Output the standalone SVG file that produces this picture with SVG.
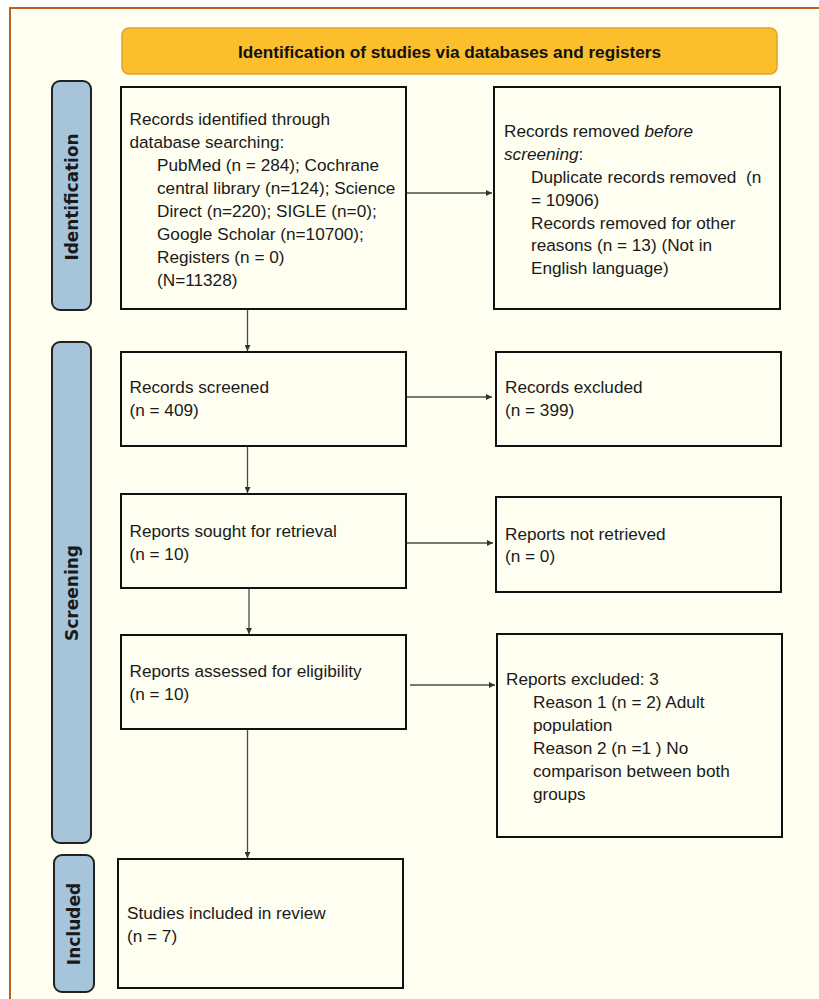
<svg xmlns="http://www.w3.org/2000/svg" width="819" height="999" viewBox="0 0 819 999">
<style>
.bg{fill:#fefef1;stroke:#b8621b;stroke-width:2}
.hdr{fill:#fbbe2c;stroke:#e3a12b;stroke-width:1.5}
.hdrt{font-family:"Liberation Sans",Arial,sans-serif;font-weight:bold;font-size:17px;fill:#111;text-anchor:middle}
.bar{fill:#a7c5da;stroke:#222;stroke-width:2}
.bart{font-family:"DejaVu Sans",Verdana,sans-serif;font-weight:bold;font-size:17px;fill:#1a1a1a;text-anchor:middle}
.box{fill:#fefef1;stroke:#111;stroke-width:2}
.t{font-family:"Liberation Sans",Arial,sans-serif;font-size:17.2px;fill:#1a1a1a}
.conn line{stroke:#4a4a4a;stroke-width:1.3;fill:none}
</style>
<defs>
<marker id="ah" viewBox="0 0 6 6" refX="6" refY="3" markerWidth="6" markerHeight="6" markerUnits="userSpaceOnUse" orient="auto">
<path d="M0,0 L6,3 L0,6 z" fill="#333"/>
</marker>
</defs>
<rect x="0" y="0" width="819" height="999" fill="#ffffff"/>
<rect class="bg" x="10" y="8" width="830" height="1010"/>

<g id="header">
<rect class="hdr" x="122" y="28" width="655" height="46" rx="7"/>
<text class="hdrt" x="449.5" y="58" textLength="423" lengthAdjust="spacingAndGlyphs">Identification of studies via databases and registers</text>
</g>

<g id="phase-identification">
<rect class="bar" x="52" y="81" width="39" height="229" rx="8"/>
<text class="bart" transform="translate(77.5,197) rotate(-90)" textLength="127" lengthAdjust="spacingAndGlyphs">Identification</text>
</g>
<g id="phase-screening">
<rect class="bar" x="52" y="342" width="39" height="501" rx="8"/>
<text class="bart" transform="translate(77.5,593) rotate(-90)">Screening</text>
</g>
<g id="phase-included">
<rect class="bar" x="54" y="855" width="40" height="137" rx="8"/>
<text class="bart" transform="translate(80,924) rotate(-90)">Included</text>
</g>

<g id="records-identified">
<rect class="box" x="121" y="87" width="285" height="222"/>
<text class="t" x="129.5" y="125">Records identified through</text>
<text class="t" x="129.5" y="148">database searching:</text>
<text class="t" x="157" y="171">PubMed (n = 284); Cochrane</text>
<text class="t" x="157" y="194">central library (n=124); Science</text>
<text class="t" x="157" y="217">Direct (n=220); SIGLE (n=0);</text>
<text class="t" x="157" y="239.5">Google Scholar (n=10700);</text>
<text class="t" x="157" y="262.5">Registers (n = 0)</text>
<text class="t" x="157" y="285.5">(N=11328)</text>
</g>

<g id="records-removed">
<rect class="box" x="494" y="87" width="286" height="222"/>
<text class="t" x="504" y="137">Records removed <tspan font-style="italic">before</tspan></text>
<text class="t" x="504" y="160"><tspan font-style="italic">screening</tspan>:</text>
<text class="t" x="531" y="183">Duplicate records removed &#160;(n</text>
<text class="t" x="531" y="205.5">= 10906)</text>
<text class="t" x="531" y="228.5">Records removed for other</text>
<text class="t" x="531" y="251">reasons (n = 13) (Not in</text>
<text class="t" x="531" y="274">English language)</text>
</g>

<g id="records-screened">
<rect class="box" x="121" y="352" width="285" height="94"/>
<text class="t" x="129.5" y="393">Records screened</text>
<text class="t" x="129.5" y="416">(n = 409)</text>
</g>

<g id="records-excluded">
<rect class="box" x="496" y="352" width="285" height="94"/>
<text class="t" x="505" y="393">Records excluded</text>
<text class="t" x="505" y="416">(n = 399)</text>
</g>

<g id="reports-sought">
<rect class="box" x="121" y="494" width="285" height="94"/>
<text class="t" x="129.5" y="537">Reports sought for retrieval</text>
<text class="t" x="129.5" y="559.5">(n = 10)</text>
</g>

<g id="reports-not-retrieved">
<rect class="box" x="496" y="497" width="285" height="95"/>
<text class="t" x="505" y="539.5">Reports not retrieved</text>
<text class="t" x="505" y="562">(n = 0)</text>
</g>

<g id="reports-assessed">
<rect class="box" x="121" y="635" width="285" height="94"/>
<text class="t" x="129.5" y="677">Reports assessed for eligibility</text>
<text class="t" x="129.5" y="700">(n = 10)</text>
</g>

<g id="reports-excluded">
<rect class="box" x="497" y="634" width="285" height="203"/>
<text class="t" x="506" y="685">Reports excluded: 3</text>
<text class="t" x="533" y="708">Reason 1 (n = 2) Adult</text>
<text class="t" x="533" y="731">population</text>
<text class="t" x="533" y="754">Reason 2 (n =1 ) No</text>
<text class="t" x="533" y="777">comparison between both</text>
<text class="t" x="533" y="799.5">groups</text>
</g>

<g id="studies-included">
<rect class="box" x="118" y="859" width="285" height="129"/>
<text class="t" x="127" y="918.5">Studies included in review</text>
<text class="t" x="127" y="942">(n = 7)</text>
</g>

<g id="connectors" class="conn">
<line x1="407" y1="193" x2="492" y2="193" marker-end="url(#ah)"/>
<line x1="247.5" y1="310" x2="247.5" y2="351" marker-end="url(#ah)"/>
<line x1="407" y1="397" x2="492" y2="397" marker-end="url(#ah)"/>
<line x1="247.5" y1="447" x2="247.5" y2="493" marker-end="url(#ah)"/>
<line x1="407" y1="543" x2="493" y2="543" marker-end="url(#ah)"/>
<line x1="249" y1="589" x2="249" y2="634" marker-end="url(#ah)"/>
<line x1="410" y1="685" x2="495" y2="685" marker-end="url(#ah)"/>
<line x1="247.5" y1="730" x2="247.5" y2="858" marker-end="url(#ah)"/>
</g>
</svg>
